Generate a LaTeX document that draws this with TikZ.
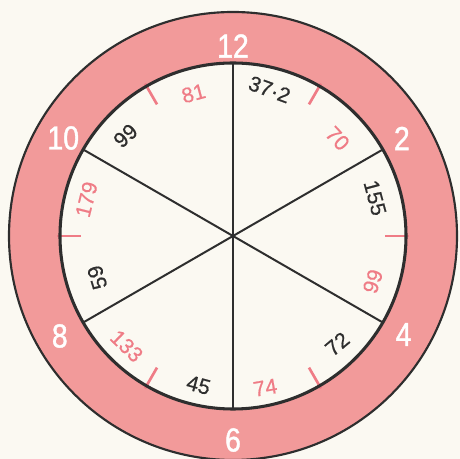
\documentclass[tikz,border=0pt]{standalone}
\usepackage{fontspec}
\newfontfamily\hourfont[FakeStretch=0.85, FakeBold=1.2]{Liberation Sans}
\newfontfamily\valfont[FakeBold=0.6]{Liberation Sans}
\definecolor{cpaper}{HTML}{FBF9F2}
\definecolor{cring}{HTML}{F29A9A}
\definecolor{cpink}{HTML}{EF7C86}
\definecolor{cink}{HTML}{2E2E2E}
\tikzset{
  every picture/.style={line width=1.4pt},
  hour/.style={text=white, inner sep=0pt, font=\hourfont\fontsize{25}{25}\selectfont},
  val/.style={inner sep=0pt, font=\valfont\fontsize{16}{16}\selectfont},
  spoke/.style={draw=cink, line width=1.5pt},
  oddtick/.style={draw=cpink, line width=2pt},
}

\begin{document}
\begin{tikzpicture}[x=0.75pt, y=0.75pt]
  % paper
  \fill[cpaper] (-233,-223) rectangle (227,236);
  \useasboundingbox (-233,-223) rectangle (227,236);
  \coordinate (c) at (0,0);
  % ring
  \fill[cring, even odd rule] (c) circle[radius=224] (c) circle[radius=173];
  \draw[cink, line width=1.6pt] (c) circle[radius=224];
  \foreach \a in {60,0,-60,-120,180,120} \draw[oddtick] (\a:152) -- (\a:176);
  % sectors
  \foreach \a in {90,30,-30,-90,-150,150} \draw[spoke] (c) -- (\a:173);
  \draw[cink, line width=2.3pt] (c) circle[radius=173];
  % hours
  \foreach \a/\r/\h in {90/190/12, 30/195/2, -30/197/4, -90/204/6, -150/200/8, 150/196/10}
    \node[hour] (h\h) at (\a:\r) {\h};
  % values
  \foreach \a/\r/\t/\col/\rot [count=\i] in {
      76/151/37·2/cink/-20, 43/143/70/cpink/-47, 15/147/155/cink/-75,
      -18/147/99/cpink/72, -46/150/72/cink/40, -78/155/74/cpink/10,
      -103/153/45/cink/-15, -134/153/133/cpink/-44, -163/142/59/cink/107,
      166/151/179/cpink/76, 137/147/99/cink/42, 105.5/148/81/cpink/15}
    \node[val, text=\col, rotate=\rot] (v\i) at (\a:\r) {\t};
\end{tikzpicture}
\end{document}
